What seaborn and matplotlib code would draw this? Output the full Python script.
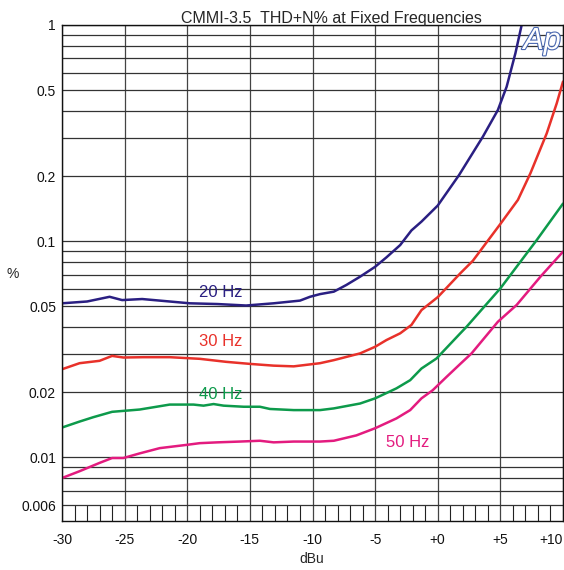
import matplotlib
matplotlib.use("Agg")
import matplotlib.pyplot as plt
import matplotlib.patheffects as pe
from matplotlib.ticker import MultipleLocator, NullFormatter
import seaborn as sns
import pandas as pd

# THD+N (%) vs level (dBu)
x20 = [-30, -28, -26.2, -25.2, -23.6, -21.4, -19.8, -17.6, -15.3, -13.1, -11.0, -10.2,
       -9.4, -8.3, -7.3, -6.2, -5.0, -4.1, -3.0, -2.1, -1.3, 0.0, 1.7, 3.6, 4.8, 5.5, 6.2, 6.7, 7.2]
y20 = [0.0515, 0.0525, 0.0552, 0.0533, 0.0539, 0.0525, 0.0515, 0.0511, 0.0503, 0.0515, 0.053, 0.0552,
       0.0568, 0.0583, 0.0626, 0.0684, 0.076, 0.084, 0.0958, 0.112, 0.123, 0.146, 0.202, 0.304, 0.404,
       0.518, 0.74, 1.0, 1.3]

x30 = [-30, -28.6, -27.0, -26.0, -25.1, -23.5, -21.4, -19.0, -16.9, -15.0, -13.1, -11.5, -9.4,
       -8.3, -6.2, -5.0, -4.1, -3.0, -2.1, -1.3, 0.0, 0.5, 1.8, 2.8, 5.0, 6.4, 7.4, 8.7, 9.5, 10.0]
y30 = [0.0255, 0.0272, 0.0279, 0.0294, 0.0289, 0.029, 0.029, 0.0285, 0.0276, 0.027, 0.0265, 0.0263,
       0.0272, 0.0281, 0.0302, 0.0324, 0.0348, 0.0374, 0.0409, 0.0479, 0.055, 0.059, 0.0709, 0.081,
       0.12, 0.155, 0.206, 0.315, 0.434, 0.547]

x40 = [-30, -28.6, -27.5, -26.0, -23.8, -21.4, -19.5, -18.7, -17.9, -17.1, -15.5, -14.2, -13.4,
       -11.5, -9.4, -8.3, -6.2, -5.0, -3.3, -2.2, -1.3, -0.1, 1.8, 2.3, 5.0, 7.9, 10.0]
y40 = [0.0137, 0.0146, 0.0153, 0.0162, 0.0166, 0.0175, 0.0175, 0.0173, 0.0176, 0.0173, 0.0171,
       0.0171, 0.0167, 0.0165, 0.0165, 0.0168, 0.0177, 0.0187, 0.0208, 0.0227, 0.0257, 0.0286,
       0.0374, 0.0401, 0.0604, 0.101, 0.149]

x50 = [-30, -28.6, -27.0, -26.0, -25.1, -23.8, -22.2, -20.0, -19.0, -17.6, -15.8, -14.2, -13.1,
       -11.5, -9.4, -8.3, -6.5, -5.0, -3.3, -2.2, -1.3, -0.4, 0.7, 1.8, 2.7, 4.8, 6.3, 8.2, 10.0]
y50 = [0.0080, 0.0086, 0.0094, 0.0099, 0.0099, 0.0104, 0.0110, 0.0114, 0.0116, 0.0117, 0.0118,
       0.0119, 0.0117, 0.0118, 0.0118, 0.0119, 0.0126, 0.0136, 0.0151, 0.0165, 0.0187, 0.0204,
       0.0235, 0.0270, 0.0302, 0.0423, 0.0506, 0.0684, 0.0893]

freqs = ["20 Hz", "30 Hz", "40 Hz", "50 Hz"]
colors = ["#2a1f82", "#e8312a", "#0d9a4b", "#e31b7f"]

x_ticks = [-30, -25, -20, -15, -10, -5, 0, 5, 10]
x_labels = ["-30", "-25", "-20", "-15", "-10", "-5", "+0", "+5", "+10"]
y_ticks = [1, 0.5, 0.2, 0.1, 0.05, 0.02, 0.01, 0.006]
y_labels = ["1", "0.5", "0.2", "0.1", "0.05", "0.02", "0.01", "0.006"]

frames = []
for f, xs, ys in zip(freqs, [x20, x30, x40, x50], [y20, y30, y40, y50]):
    frames.append(pd.DataFrame({"dbu": xs, "thd": ys, "freq": f}))
df = pd.concat(frames, ignore_index=True)

sns.set_style("white")
plt.rcParams['font.family'] = ['Liberation Sans', 'DejaVu Sans']

fig = plt.figure(figsize=(5.64, 5.70), dpi=100)
ax = fig.add_axes([62 / 564, 1 - 521 / 570, (563 - 62) / 564, (521 - 25) / 570])

sns.lineplot(data=df, x="dbu", y="thd", hue="freq", palette=dict(zip(freqs, colors)),
             estimator=None, sort=False, legend=False, linewidth=1.8, ax=ax)

ax.set_yscale("log")
ax.set_xlim(-30, 10)
ax.set_ylim(0.00506, 1)

# y gridlines at every 1..9 step of each decade, down to 0.006
minor_y = []
for dec in [0.001, 0.01, 0.1]:
    for k in range(1, 10):
        v = round(k * dec, 6)
        if 0.006 <= v < 1 and v not in y_ticks:
            minor_y.append(v)
ax.set_yticks(y_ticks, y_labels)
ax.set_yticks(minor_y, minor=True)
ax.yaxis.set_minor_formatter(NullFormatter())
ax.set_xticks(x_ticks, x_labels)
ax.xaxis.set_minor_locator(MultipleLocator(1))

ax.grid(which="both", axis="y", color="#333333", linewidth=0.9)
ax.grid(which="major", axis="x", color="#444444", linewidth=0.9)
ax.set_axisbelow(True)

ax.tick_params(axis="y", which="both", length=0, pad=4.3, labelsize=10, colors="#111111")
ax.tick_params(axis="x", which="major", length=0, pad=8.5, labelsize=10, colors="#111111")
ax.tick_params(axis="x", which="minor", bottom=True, top=False, direction="in",
               length=11.5, width=0.8, color="#222222")
ax.get_xticklabels()[-1].set_ha("right")

for s in ax.spines.values():
    s.set_color("#111111")
    s.set_linewidth(1.0)

ax.set_xlabel("")
ax.set_ylabel("")
fig.text(312 / 564, 1 - 559 / 570, "dBu", ha="center", va="center", fontsize=10)
fig.text(13 / 564, 1 - 274 / 570, "%", ha="center", va="center", fontsize=10)
fig.text(331 / 564, 1 - 22.7 / 570, "CMMI-3.5  THD+N% at Fixed Frequencies",
         ha="center", va="baseline", fontsize=11.5)

# curve labels
label_pos = [(-17.3, 0.058), (-17.3, 0.0341), (-17.3, 0.0194), (-2.4, 0.0117)]
for (lx, ly), f, c in zip(label_pos, freqs, colors):
    ax.text(lx, ly, f, color=c, fontsize=12, ha="center", va="center")

# Ap logo
logo = fig.text(542 / 564, 1 - 41 / 570, "Ap", ha="center", va="center", fontsize=22,
                fontstyle="italic", color="white")
logo.set_path_effects([pe.Stroke(linewidth=1.6, foreground="#4a68b0"), pe.Normal()])

fig.savefig("out.png", dpi=100, facecolor="white")
plt.close(fig)
